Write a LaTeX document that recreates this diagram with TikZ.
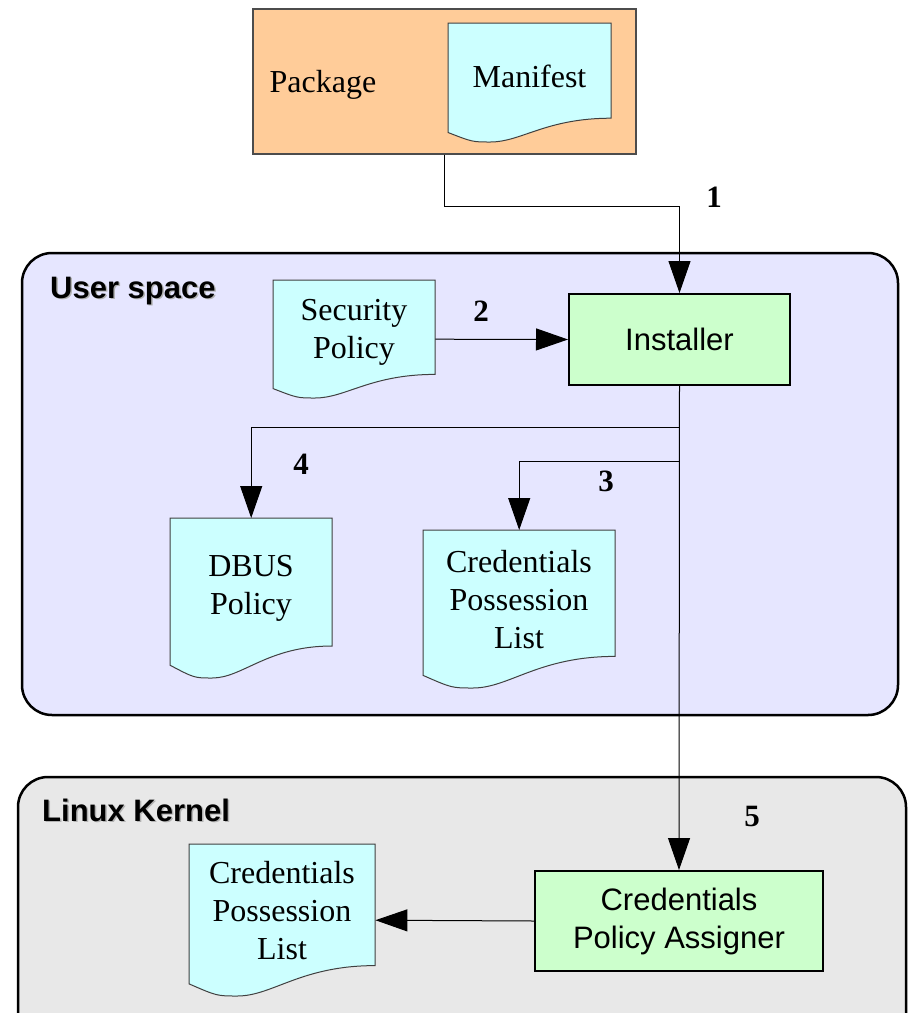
\documentclass[tikz,border=0pt]{standalone}
\usepackage{fontspec}
\setmainfont{Liberation Serif}
\setsansfont{Liberation Sans}
\usetikzlibrary{arrows.meta,calc}
\definecolor{peach}{RGB}{255,204,153}
\definecolor{docblue}{RGB}{204,255,255}
\definecolor{boxgreen}{RGB}{204,255,204}
\definecolor{userbg}{RGB}{230,230,255}
\definecolor{kernbg}{RGB}{232,232,232}

% document sheet: name, left, top, width, height, text
\newcommand\docnode[6]{%
  \filldraw[docfill] (#2,#3) -- ({#2+#4},#3) -- ({#2+#4},{#3+0.8*#5})
    .. controls ({#2+0.6*#4},{#3+0.8*#5}) and ({#2+0.45*#4},{#3+#5}) .. ({#2+0.26*#4},{#3+#5})
    .. controls ({#2+0.15*#4},{#3+#5}) .. (#2,{#3+0.92*#5}) -- cycle;
  \node (#1) [minimum width=#4, minimum height=#5, anchor=north west, inner sep=0] at (#2,#3) {};
  \node (#1-txt) [doctext] at ({#2+0.5*#4},{#3+0.42*#5+3}) {#6};
}

\begin{document}
\begin{tikzpicture}[x=1pt,y=-1pt,
	region/.style={draw=black, line width=2.5pt, rounded corners=30pt},
	docfill/.style={draw=black!75, fill=docblue, line width=1pt},
	doctext/.style={align=center, font=\fontsize{32}{38}\selectfont},
	proc/.style={draw=black, fill=boxgreen, line width=2pt, align=center, inner sep=0,
		font=\sffamily\fontsize{31}{38}\selectfont},
	title/.style={font=\sffamily\bfseries\fontsize{31}{36}\selectfont, anchor=west, inner sep=0},
	num/.style={font=\bfseries\fontsize{31}{36}\selectfont},
	arr/.style={draw=black, line width=1pt, -{Triangle[length=32pt,width=22pt]}}]
	\useasboundingbox (0,0) rectangle (914,1013);

	% package
	\node (pkg) [draw=black!70, fill=peach, line width=1.5pt, minimum width=383, minimum height=145,
		anchor=north west] at (252,8) {};
	\node (pkg-txt) [doctext] at (323,85) {Package};
	\docnode{mani}{448}{23}{163}{119}{Manifest}

	% user space
	\draw[region, fill=userbg] (22,253) rectangle (898,715);
	\node (us-sh) [title, black!30] at (51.5,292.5) {User space};
	\node (us) [title] at (50,291) {User space};
	\docnode{sec}{273}{280}{162}{118}{Security\\Policy}
	\node (inst) [proc, minimum width=221, minimum height=91, anchor=north west] at (568,293) {Installer};
	\docnode{dbus}{170}{518}{162}{160}{DBUS\\Policy}
	\docnode{cplu}{423}{530}{192}{158}{Credentials\\Possession\\List}

	% kernel
	\draw[region, fill=kernbg] (18,777) rectangle (906,1060);
	\node (lk-sh) [title, black!30] at (43.5,811.5) {Linux Kernel};
	\node (lk) [title] at (42,810) {Linux Kernel};
	\node (cpa) [proc, minimum width=288, minimum height=100, anchor=north west] at (534,870)
		{Credentials\\Policy Assigner};
	\docnode{cplk}{189}{844}{186}{152}{Credentials\\Possession\\List}

	% flows
	\draw[arr] (pkg.south) -- ++(0,52) -| (inst.north);
	\draw[arr] (sec.east) -- (inst.west);
	\draw[arr] (inst.south) -- (cpa.north);
	\coordinate (j4) at ($(inst.south)+(0,41)$);
	\coordinate (j3) at ($(inst.south)+(0,75)$);
	\draw[arr] (j4) -| (dbus.north);
	\draw[arr] (j3) -| (cplu.north);
	\draw[arr] (cpa.west) -- (cplk.east);

	\node (n1) [num] at (714,197) {1};
	\node (n2) [num] at (481,311) {2};
	\node (n3) [num] at (606,481) {3};
	\node (n4) [num] at (301,464) {4};
	\node (n5) [num] at (752,816) {5};
\end{tikzpicture}
\end{document}
